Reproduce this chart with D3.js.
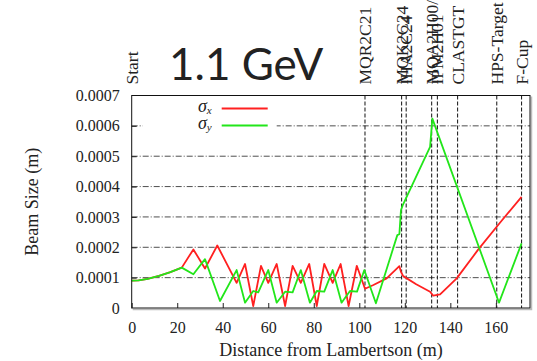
<!DOCTYPE html>
<html>
<head>
<meta charset="utf-8">
<script src="https://cdn.jsdelivr.net/npm/d3@7"></script>
<style>
  body { margin: 0; background: #fff; }
  svg text { font-family: "Liberation Serif", serif; fill: #222; }
  .grid line { stroke: #222; stroke-width: 0.8; stroke-dasharray: 6,2,1,2; }
  .elem { stroke: #111; stroke-width: 1; stroke-dasharray: 4,2; }
  path.beam { fill: none; stroke-width: 1.8; stroke-linejoin: round; }
</style>
</head>
<body>
<svg width="537" height="361"></svg>
<script>
// beam envelope along the line (distance in m, size in m)
const sigmaXDist = [0, 3, 7, 12, 17, 22, 27.1, 32.2, 37.6, 46.1, 49.8, 53.4, 56.8, 60.0, 63.7, 67.4, 70.7, 74.3, 78.0, 81.3, 84.6, 88.3, 91.8, 95.3, 98.9, 102.5, 106.2, 112, 117.6, 118.3, 119.3, 125, 131.1, 132.5, 135.5, 142.8, 152.3, 161.8, 171.3];
const sigmaX = [0.000090, 0.000091, 0.000096, 0.000106, 0.000118, 0.000133, 0.000193, 0.000130, 0.000206, 0.000083, 0.000145, 0.0000066, 0.000139, 0.000083, 0.000145, 0.0000066, 0.000139, 0.000083, 0.000145, 0.0000066, 0.000145, 0.000083, 0.000145, 0.0000066, 0.000139, 0.0000635, 0.0000757, 0.0000976, 0.000138, 0.000119, 0.000105, 0.000078, 0.0000537, 0.0000405, 0.000045, 0.0000976, 0.000193, 0.000281, 0.000366];

const sigmaYDist = [0, 3, 7, 12, 17, 22, 27.1, 32.2, 38.8, 46.1, 49.8, 53.4, 55.6, 60.0, 63.7, 67.4, 70.7, 74.3, 78.3, 81.3, 84.6, 88.3, 92.2, 95.9, 99.0, 102.2, 107.3, 116.7, 117.6, 118.3, 119.1, 131.1, 132.1, 161.4, 171.3];
const sigmaY = [0.000090, 0.000091, 0.000096, 0.000106, 0.000118, 0.000133, 0.000111, 0.000161, 0.000023, 0.000125, 0.0000175, 0.000056, 0.0000515, 0.000125, 0.0000175, 0.0000537, 0.0000515, 0.000125, 0.0000175, 0.000056, 0.000054, 0.000125, 0.0000175, 0.000056, 0.000054, 0.000125, 0.0000154, 0.000240, 0.000243, 0.000322, 0.000339, 0.000531, 0.000624, 0.0000175, 0.000213];

// beamline elements marked on top
const elemNames = ["Start", "MQR2C21", "MQK2C24", "IHA2C24", "MQA2H00/", "IPM2H01", "CLASTGT", "HPS-Target", "F-Cup"];
const elemPos = [0, 102.5, 118.6, 120.6, 131.8, 134.3, 143.2, 160.4, 171.3];

const xTicks = [0, 20, 40, 60, 80, 100, 120, 140, 160];
const yTicks = [0, 0.0001, 0.0002, 0.0003, 0.0004, 0.0005, 0.0006, 0.0007];

const serif = "'Liberation Serif', serif";
const margin = { top: 95.5, right: 7, bottom: 53, left: 131.7 };
const width = 537 - margin.left - margin.right;
const height = 361 - margin.top - margin.bottom;

const svg = d3.select("svg");
const g = svg.append("g").attr("transform", "translate(" + margin.left + "," + margin.top + ")");

const x = d3.scaleLinear().domain([0, 175]).range([0, width]);
const y = d3.scaleLinear().domain([0, 0.0007]).range([height, 0]);

// horizontal grid
g.append("g").attr("class", "grid")
  .selectAll("line").data(yTicks.slice(1, -1)).enter().append("line")
  .attr("x1", 0).attr("x2", width)
  .attr("y1", d => y(d)).attr("y2", d => y(d));

// legend box hides the grid behind it
g.append("rect").attr("x", 11).attr("y", 4).attr("width", 134).attr("height", 36).attr("fill", "#fff");

// element markers
g.selectAll("line.elem").data(elemPos.slice(1)).enter().append("line")
  .attr("class", "elem")
  .attr("x1", d => x(d)).attr("x2", d => x(d))
  .attr("y1", 0).attr("y2", height);

g.selectAll("text.elabel").data(elemNames).enter().append("text")
  .attr("class", "elabel")
  .attr("transform", (d, i) => "translate(" + x(elemPos[i]) + "," + (-11) + ") rotate(-90)")
  .attr("dominant-baseline", "central")
  .style("font-size", "17.5px")
  .text(d => d);

// axes
const xAxis = g.append("g").attr("transform", "translate(0," + height + ")")
  .call(d3.axisBottom(x).tickValues(xTicks).tickSizeInner(-5).tickSizeOuter(0).tickPadding(14));
const yAxis = g.append("g")
  .call(d3.axisLeft(y).tickValues(yTicks).tickFormat(d => d === 0 ? "0" : d.toFixed(4)).tickSizeInner(-5).tickSizeOuter(0).tickPadding(12));
[xAxis, yAxis].forEach(a => {
  a.attr("font-family", serif).attr("font-size", 16);
  a.select(".domain").remove();
  a.selectAll("line").attr("stroke", "#222");
  a.selectAll("text").style("font-family", serif).style("font-size", "16px").attr("fill", "#333");
});
yAxis.selectAll(".tick").filter(d => d === 0.0007 || d === 0).select("line").remove();

// curves
const line = d3.line().x(d => x(d[0])).y(d => y(d[1]));
g.append("path").attr("class", "beam").attr("stroke", "#ff2020")
  .attr("d", line(d3.zip(sigmaXDist, sigmaX)));
g.append("path").attr("class", "beam").attr("stroke", "#22e61a")
  .attr("d", line(d3.zip(sigmaYDist, sigmaY)));

// frame with a soft shadow on right / bottom
g.append("path").attr("fill", "none").attr("stroke", "#bbb").attr("stroke-width", 1.5)
  .attr("d", "M" + (width + 1.5) + ",1V" + (height + 1.5) + "H1");
g.append("rect").attr("width", width).attr("height", height)
  .attr("fill", "none").attr("stroke", "#111").attr("stroke-width", 1);

// legend
const legend = [["x", "#ff2020"], ["y", "#22e61a"]];
legend.forEach((d, i) => {
  const ly = 13 + i * 17;
  const t = g.append("text").attr("x", 80).attr("y", ly + 3.5).attr("text-anchor", "end")
    .style("font-size", "15px").style("font-style", "italic");
  t.append("tspan").style("font-size", "18px").text("σ");
  t.append("tspan").attr("dy", 2).style("font-size", "11px").text(d[0]);
  g.append("line").attr("x1", 90).attr("x2", 136).attr("y1", ly).attr("y2", ly)
    .attr("stroke", d[1]).attr("stroke-width", 1.8);
});

// axis titles
svg.append("text").attr("x", 331).attr("y", 356).attr("text-anchor", "middle")
  .style("font-size", "18px").text("Distance from Lambertson (m)");
svg.append("text").attr("transform", "translate(38," + (margin.top + height / 2) + ") rotate(-90)")
  .attr("text-anchor", "middle").style("font-size", "18px").text("Beam Size (m)");

// energy title
svg.append("text").attr("x", 169).attr("y", 80)
  .style("font-family", "Lato, 'Open Sans', sans-serif").style("font-size", "44px").attr("fill", "#000")
  .text("1.1 GeV");
</script>
</body>
</html>
